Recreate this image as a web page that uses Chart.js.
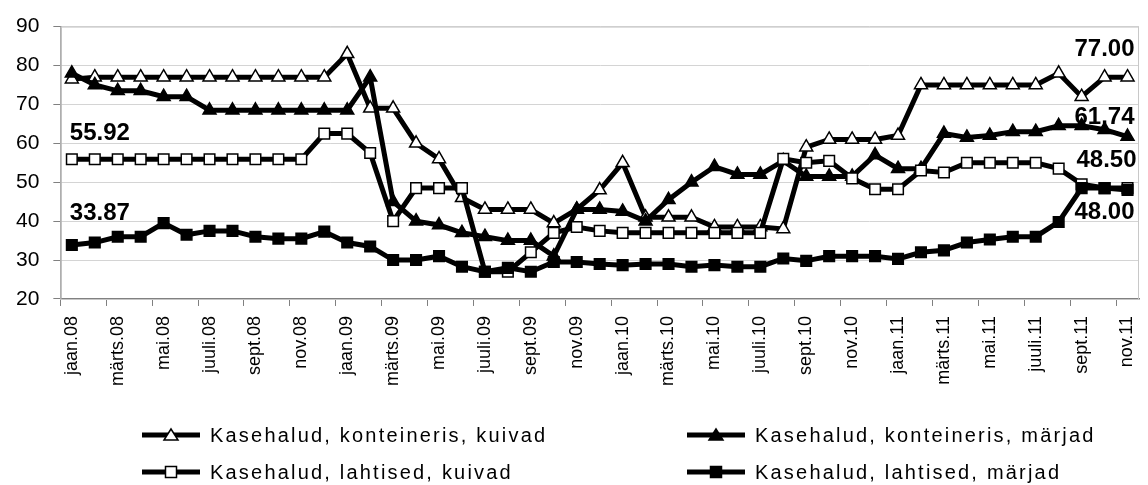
<!DOCTYPE html>
<html>
<head>
<meta charset="utf-8">
<script src="https://cdn.jsdelivr.net/npm/chart.js@4.4.1/dist/chart.umd.min.js"></script>
<style>
  html, body { margin: 0; padding: 0; background: #fff; }
  #wrap { position: relative; width: 1148px; height: 485px; overflow: hidden; }
  #legend { position: absolute; left: 0; top: 0; width: 1148px; height: 485px; pointer-events: none; }
  .item { position: absolute; display: flex; align-items: center; height: 24px;
          font-family: "Liberation Sans", Arial, sans-serif; font-size: 20px; letter-spacing: 2.2px; color: #000; }
  .item svg { margin-right: 10px; }
</style>
</head>
<body>
<div id="wrap">
  <canvas id="lineChart" width="1148" height="485"></canvas>
  <div id="legend"></div>
</div>
<script>
const categories = [
  "jaan.08", "veebr.08", "märts.08", "apr.08", "mai.08", "juuni.08", "juuli.08", "aug.08", "sept.08", "okt.08", "nov.08", "dets.08",
  "jaan.09", "veebr.09", "märts.09", "apr.09", "mai.09", "juuni.09", "juuli.09", "aug.09", "sept.09", "okt.09", "nov.09", "dets.09",
  "jaan.10", "veebr.10", "märts.10", "apr.10", "mai.10", "juuni.10", "juuli.10", "aug.10", "sept.10", "okt.10", "nov.10", "dets.10",
  "jaan.11", "veebr.11", "märts.11", "apr.11", "mai.11", "juuni.11", "juuli.11", "aug.11", "sept.11", "okt.11", "nov.11"
];

const kontKuivad = [76.5, 77, 77, 77, 77, 77, 77, 77, 77, 77, 77, 77,
  83, 69, 69, 60, 56, 46, 43, 43, 43, 39.5, 43, 48,
  55, 41, 41, 41, 38.5, 38.5, 38.5, 38, 59, 61, 61, 61,
  62, 75, 75, 75, 75, 75, 75, 78, 72, 77, 77];

const kontMarjad = [78, 75, 73.5, 73.5, 72, 72, 68.5, 68.5, 68.5, 68.5, 68.5, 68.5,
  68.5, 77, 45, 40, 39, 37, 36, 35, 35, 31, 43, 43,
  42.5, 40, 45.5, 50, 54, 52, 52, 55.5, 51.5, 51.5, 51.5, 57,
  53.5, 53.5, 62.5, 61.5, 62, 63, 63, 64.5, 64.5, 63.5, 61.74];

const lahtKuivad = [55.92, 55.92, 55.92, 55.92, 55.92, 55.92, 55.92, 55.92, 55.92, 55.92, 55.92, 62.5,
  62.5, 57.5, 40, 48.5, 48.5, 48.5, 27, 27, 32, 37, 38.5, 37.5,
  37, 37, 37, 37, 37, 37, 37, 56, 55, 55.5, 51, 48.2,
  48.2, 53, 52.5, 55, 55, 55, 55, 53.5, 49.5, 48.5, 48.5];

const lahtMarjad = [33.87, 34.5, 36, 36, 39.5, 36.5, 37.5, 37.5, 36, 35.5, 35.5, 37.3,
  34.5, 33.5, 30, 30, 31, 28.3, 27, 28, 27, 29.5, 29.5, 29,
  28.7, 29, 29, 28.3, 28.7, 28.3, 28.3, 30.4, 29.8, 31, 31, 31,
  30.3, 32, 32.5, 34.5, 35.3, 36, 36, 39.8, 48.5, 48.5, 48];

const seriesNames = [
  "Kasehalud, konteineris, kuivad",
  "Kasehalud, konteineris, märjad",
  "Kasehalud, lahtised, kuivad",
  "Kasehalud, lahtised, märjad"
];

const yTicks = [20, 30, 40, 50, 60, 70, 80, 90];

const FONT = '"Liberation Sans", Arial, sans-serif';

function series(label, data, style, filled, order) {
  return {
    label: label,
    data: data,
    borderColor: "#000",
    borderWidth: 5,
    pointStyle: style,
    pointRadius: 7.5,
    pointBorderWidth: 1.5,
    pointBorderColor: "#000",
    pointBackgroundColor: filled ? "#000" : "#fff",
    order: order
  };
}

// value labels next to first / last points
const valueLabels = {
  id: "valueLabels",
  afterDatasetsDraw(chart) {
    const ctx = chart.ctx;
    const spots = [
      { ds: 2, i: 0, dx: 28, dy: -26 },
      { ds: 3, i: 0, dx: 28, dy: -32 },
      { ds: 0, i: 46, dx: -23, dy: -28 },
      { ds: 1, i: 46, dx: -23, dy: -19 },
      { ds: 2, i: 46, dx: -21, dy: -28 },
      { ds: 3, i: 46, dx: -23, dy: 22 }
    ];
    ctx.save();
    ctx.font = "bold 24px " + FONT;
    ctx.fillStyle = "#000";
    ctx.textAlign = "center";
    ctx.textBaseline = "middle";
    spots.forEach(s => {
      const pt = chart.getDatasetMeta(s.ds).data[s.i];
      const v = chart.data.datasets[s.ds].data[s.i];
      ctx.fillText(v.toFixed(2), pt.x + s.dx, pt.y + s.dy);
    });
    ctx.restore();
  }
};

// thin frame round the plot area
const plotFrame = {
  id: "plotFrame",
  beforeDatasetsDraw(chart) {
    const a = chart.chartArea;
    const ctx = chart.ctx;
    ctx.save();
    ctx.strokeStyle = "#c8c8c8";
    ctx.lineWidth = 1;
    ctx.strokeRect(a.left + 0.5, a.top + 0.5, a.right - a.left - 1, a.bottom - a.top);
    ctx.restore();
  }
};

new Chart(document.getElementById("lineChart"), {
  type: "line",
  data: {
    labels: categories,
    datasets: [
      series(seriesNames[0], kontKuivad, "triangle", false, 4),
      series(seriesNames[1], kontMarjad, "triangle", true, 3),
      series(seriesNames[2], lahtKuivad, "rect", false, 2),
      series(seriesNames[3], lahtMarjad, "rect", true, 1)
    ]
  },
  options: {
    responsive: false,
    animation: false,
    layout: { padding: { left: 2, right: 0, top: 26, bottom: 89 } },
    plugins: {
      legend: { display: false },
      tooltip: { enabled: false }
    },
    scales: {
      x: {
        offset: true,
        afterFit: scale => { scale.paddingRight = 0; },
        grid: {
          offset: true,
          drawOnChartArea: false,
          tickLength: 7,
          color: ctx => (ctx.index % 2 === 0 ? "#808080" : "rgba(0,0,0,0)")
        },
        border: { color: "#808080", width: 1.5 },
        ticks: {
          autoSkip: false,
          minRotation: 90,
          maxRotation: 90,
          padding: 10,
          color: "#000",
          font: { family: FONT, size: 18 },
          callback: (v, i) => (i % 2 === 0 ? categories[i] : "")
        }
      },
      y: {
        min: yTicks[0],
        max: yTicks[yTicks.length - 1],
        afterBuildTicks: axis => { axis.ticks = yTicks.map(v => ({ value: v })); },
        grid: { color: "#d4d4d4", tickColor: "#808080", tickLength: 7 },
        border: { color: "#808080", width: 1.5 },
        ticks: {
          padding: 14,
          color: "#000",
          font: { family: FONT, size: 21 }
        }
      }
    }
  },
  plugins: [plotFrame, valueLabels]
});

// legend in two columns like the original
const legendSpots = [
  { left: 142, top: 423 },
  { left: 687, top: 423 },
  { left: 142, top: 460 },
  { left: 687, top: 460 }
];
const legendMarks = [
  '<polygon points="29,3 36,14 22,14" fill="#fff" stroke="#000" stroke-width="1.5"/>',
  '<polygon points="29,3 36,14 22,14" fill="#000" stroke="#000" stroke-width="1.5"/>',
  '<rect x="23.5" y="3.5" width="11" height="11" fill="#fff" stroke="#000" stroke-width="1.5"/>',
  '<rect x="23.5" y="3.5" width="11" height="11" fill="#000" stroke="#000" stroke-width="1.5"/>'
];
const legendBox = document.getElementById("legend");
seriesNames.forEach((name, i) => {
  const el = document.createElement("div");
  el.className = "item";
  el.style.left = legendSpots[i].left + "px";
  el.style.top = legendSpots[i].top + "px";
  el.innerHTML = '<svg width="58" height="18" viewBox="0 0 58 18">' +
    '<line x1="0" y1="9" x2="58" y2="9" stroke="#000" stroke-width="5" stroke-linecap="round"/>' +
    legendMarks[i] + '</svg><span>' + name + '</span>';
  legendBox.appendChild(el);
});
</script>
</body>
</html>
